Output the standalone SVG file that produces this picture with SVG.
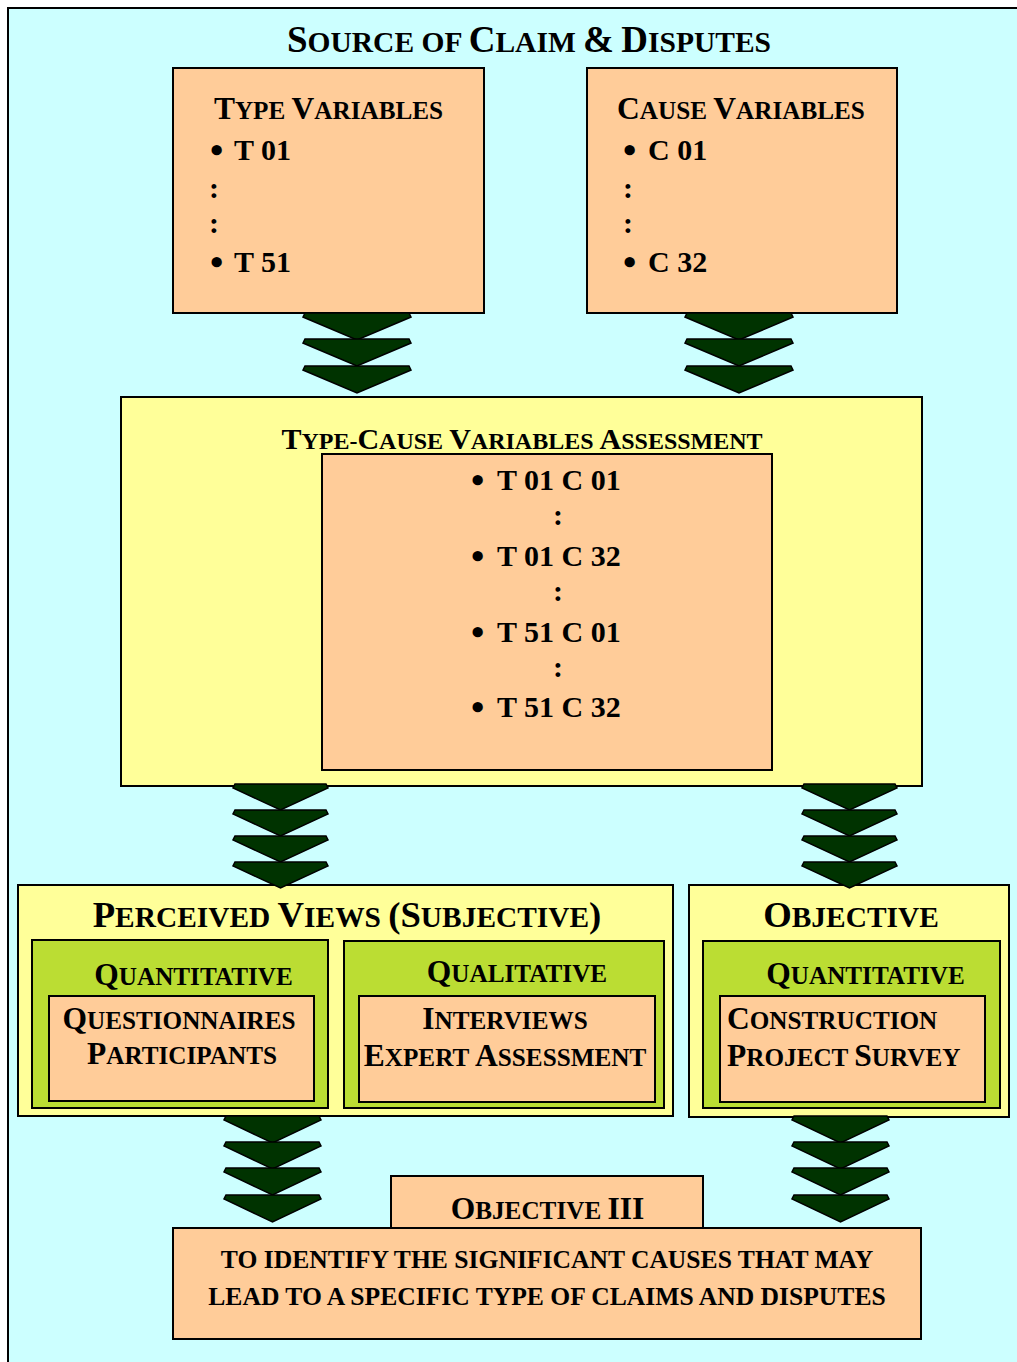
<svg xmlns="http://www.w3.org/2000/svg" width="1017" height="1362" viewBox="0 0 1017 1362">
  <style>
    text { font-family: "Liberation Serif", "Times New Roman", serif; font-weight: bold; fill: #000; }
    .frame { fill: #CCFFFF; stroke: #000; stroke-width: 2; }
    .peach { fill: #FFCC99; stroke: #000; stroke-width: 2; }
    .yellow { fill: #FFFF99; stroke: #000; stroke-width: 2; }
    .green { fill: #BBDD33; stroke: #000; stroke-width: 2; }
    .chev { fill: #003300; stroke: #000; stroke-width: 1.5; stroke-linejoin: miter; }
    .t1b { font-size: 37px; } .t1s { font-size: 29.5px; }
    .h1b { font-size: 36.7px; } .h1s { font-size: 29.4px; }
    .h2b { font-size: 31.5px; } .h2s { font-size: 25.2px; }
    .h3b { font-size: 30px; } .h3s { font-size: 24px; }
    .item { font-size: 30px; }
    .bullet { font-size: 38px; }
    .goal { font-size: 25.6px; }
  </style>
  <defs>
    <!-- stacked chevron arrow pieces, origin at top centre -->
    <path id="chevWide" class="chev" d="M-52,0 H52 L54,4 L0,27 L-54,4 Z"/>
    <path id="chevNarrow" class="chev" d="M-45.5,0 H45.5 L47.5,4 L0,26 L-47.5,4 Z"/>
    <path id="chevLow" class="chev" d="M-46.5,0 H46.5 L48.5,4 L0,27 L-48.5,4 Z"/>
  </defs>

  <!-- background frame -->
  <rect class="frame" x="8" y="8" width="1012" height="1362"/>

  <g id="title">
    <text x="529" y="52" text-anchor="middle"><tspan class="t1b">S</tspan><tspan class="t1s">OURCE OF </tspan><tspan class="t1b">C</tspan><tspan class="t1s">LAIM </tspan><tspan class="t1b">&amp;</tspan><tspan class="t1s"> </tspan><tspan class="t1b">D</tspan><tspan class="t1s">ISPUTES</tspan></text>
  </g>

  <g id="type-variables">
    <rect class="peach" x="173" y="68" width="311" height="245"/>
    <text x="328.5" y="119" text-anchor="middle"><tspan class="h2b">T</tspan><tspan class="h2s">YPE </tspan><tspan class="h2b">V</tspan><tspan class="h2s">ARIABLES</tspan></text>
    <text x="210" y="162.5"><tspan class="bullet">•</tspan><tspan class="item" x="234" y="160">T 01</tspan></text>
    <text class="item" x="209" y="197.5">:</text>
    <text class="item" x="209" y="232.5">:</text>
    <text x="210" y="274.5"><tspan class="bullet">•</tspan><tspan class="item" x="234" y="272">T 51</tspan></text>
  </g>

  <g id="cause-variables">
    <rect class="peach" x="587" y="68" width="310" height="245"/>
    <text x="741" y="119" text-anchor="middle"><tspan class="h2b">C</tspan><tspan class="h2s">AUSE </tspan><tspan class="h2b">V</tspan><tspan class="h2s">ARIABLES</tspan></text>
    <text x="623" y="162.5"><tspan class="bullet">•</tspan><tspan class="item" x="648" y="160">C 01</tspan></text>
    <text class="item" x="623" y="197.5">:</text>
    <text class="item" x="623" y="232.5">:</text>
    <text x="623" y="274.5"><tspan class="bullet">•</tspan><tspan class="item" x="648" y="272">C 32</tspan></text>
  </g>

  <g id="type-cause-assessment">
    <rect class="yellow" x="121" y="397" width="801" height="389"/>
    <text x="522" y="449" text-anchor="middle"><tspan class="h3b">T</tspan><tspan class="h3s">YPE-</tspan><tspan class="h3b">C</tspan><tspan class="h3s">AUSE </tspan><tspan class="h3b">V</tspan><tspan class="h3s">ARIABLES </tspan><tspan class="h3b">A</tspan><tspan class="h3s">SSESSMENT</tspan></text>
    <rect class="peach" x="322" y="454" width="450" height="316"/>
    <text x="471" y="492.5"><tspan class="bullet">•</tspan><tspan class="item" x="497" y="490">T 01 C 01</tspan></text>
    <text class="item" x="558" y="525" text-anchor="middle">:</text>
    <text x="471" y="568.5"><tspan class="bullet">•</tspan><tspan class="item" x="497" y="566">T 01 C 32</tspan></text>
    <text class="item" x="558" y="601" text-anchor="middle">:</text>
    <text x="471" y="644.5"><tspan class="bullet">•</tspan><tspan class="item" x="497" y="642">T 51 C 01</tspan></text>
    <text class="item" x="558" y="677" text-anchor="middle">:</text>
    <text x="471" y="719.5"><tspan class="bullet">•</tspan><tspan class="item" x="497" y="717">T 51 C 32</tspan></text>
  </g>

  <g id="perceived-views">
    <rect class="yellow" x="18" y="885" width="655" height="231"/>
    <text x="347" y="927" text-anchor="middle"><tspan class="h1b">P</tspan><tspan class="h1s">ERCEIVED </tspan><tspan class="h1b">V</tspan><tspan class="h1s">IEWS </tspan><tspan class="h1b">(S</tspan><tspan class="h1s">UBJECTIVE</tspan><tspan class="h1b">)</tspan></text>
  </g>

  <g id="subjective-quantitative">
    <rect class="green" x="32" y="940" width="296" height="168"/>
    <text x="193.5" y="985" text-anchor="middle"><tspan class="h2b">Q</tspan><tspan class="h2s">UANTITATIVE</tspan></text>
    <rect class="peach" x="49" y="996" width="265" height="105"/>
    <text x="179" y="1029" text-anchor="middle"><tspan class="h2b">Q</tspan><tspan class="h2s">UESTIONNAIRES</tspan></text>
    <text x="182" y="1064" text-anchor="middle"><tspan class="h2b">P</tspan><tspan class="h2s">ARTICIPANTS</tspan></text>
  </g>

  <g id="subjective-qualitative">
    <rect class="green" x="344" y="941" width="320" height="167"/>
    <text x="517" y="982" text-anchor="middle"><tspan class="h2b">Q</tspan><tspan class="h2s">UALITATIVE</tspan></text>
    <rect class="peach" x="359" y="996" width="296" height="106"/>
    <text x="505" y="1029" text-anchor="middle"><tspan class="h2b">I</tspan><tspan class="h2s">NTERVIEWS</tspan></text>
    <text x="505" y="1066" text-anchor="middle"><tspan class="h2b">E</tspan><tspan class="h2s">XPERT </tspan><tspan class="h2b">A</tspan><tspan class="h2s">SSESSMENT</tspan></text>
  </g>

  <g id="objective">
    <rect class="yellow" x="689" y="885" width="320" height="232"/>
    <text x="851" y="927" text-anchor="middle"><tspan class="h1b">O</tspan><tspan class="h1s">BJECTIVE</tspan></text>
  </g>

  <g id="objective-quantitative">
    <rect class="green" x="703" y="941" width="297" height="167"/>
    <text x="865.5" y="984" text-anchor="middle"><tspan class="h2b">Q</tspan><tspan class="h2s">UANTITATIVE</tspan></text>
    <rect class="peach" x="720" y="996" width="265" height="106"/>
    <text x="727" y="1029"><tspan class="h2b">C</tspan><tspan class="h2s">ONSTRUCTION</tspan></text>
    <text x="727" y="1066"><tspan class="h2b">P</tspan><tspan class="h2s">ROJECT </tspan><tspan class="h2b">S</tspan><tspan class="h2s">URVEY</tspan></text>
  </g>

  <g id="objective-iii">
    <rect class="peach" x="391" y="1176" width="312" height="56"/>
    <text x="547.5" y="1219" text-anchor="middle"><tspan class="h2b">O</tspan><tspan class="h2s">BJECTIVE </tspan><tspan class="h2b">III</tspan></text>
  </g>

  <g id="goal">
    <rect class="peach" x="173" y="1228" width="748" height="111"/>
    <text class="goal" x="547" y="1268" text-anchor="middle">TO IDENTIFY THE SIGNIFICANT CAUSES THAT MAY</text>
    <text class="goal" x="547" y="1305" text-anchor="middle">LEAD TO A SPECIFIC TYPE OF CLAIMS AND DISPUTES</text>
  </g>

  <g id="connectors">
    <!-- type variables to assessment -->
    <use href="#chevWide" x="357" y="313"/>
    <use href="#chevWide" x="357" y="339"/>
    <use href="#chevWide" x="357" y="366"/>
    <!-- cause variables to assessment -->
    <use href="#chevWide" x="739" y="313"/>
    <use href="#chevWide" x="739" y="339"/>
    <use href="#chevWide" x="739" y="366"/>
    <!-- assessment to perceived views -->
    <use href="#chevNarrow" x="280.5" y="784"/>
    <use href="#chevNarrow" x="280.5" y="810"/>
    <use href="#chevNarrow" x="280.5" y="836"/>
    <use href="#chevNarrow" x="280.5" y="862"/>
    <!-- assessment to objective -->
    <use href="#chevNarrow" x="849.5" y="784"/>
    <use href="#chevNarrow" x="849.5" y="810"/>
    <use href="#chevNarrow" x="849.5" y="836"/>
    <use href="#chevNarrow" x="849.5" y="862"/>
    <!-- perceived views to goal -->
    <use href="#chevLow" x="272.5" y="1116"/>
    <use href="#chevLow" x="272.5" y="1142"/>
    <use href="#chevLow" x="272.5" y="1168"/>
    <use href="#chevLow" x="272.5" y="1195"/>
    <!-- objective to goal -->
    <use href="#chevLow" x="840.5" y="1116"/>
    <use href="#chevLow" x="840.5" y="1142"/>
    <use href="#chevLow" x="840.5" y="1168"/>
    <use href="#chevLow" x="840.5" y="1195"/>
  </g>
</svg>
